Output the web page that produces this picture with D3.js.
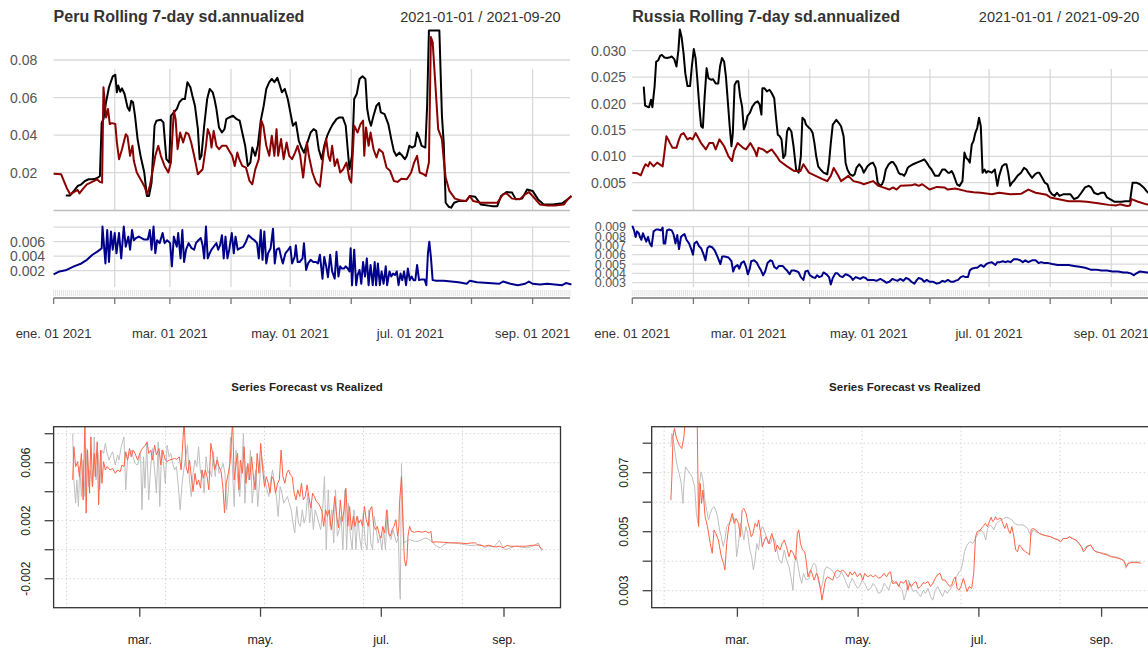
<!DOCTYPE html>
<html>
<head>
<meta charset="utf-8">
<script src="https://cdn.jsdelivr.net/npm/d3@7"></script>
<style>
  body { margin: 0; background: #fff; }
  svg { display: block; }
  text { font-family: "Liberation Sans", Arial, sans-serif; }
</style>
</head>
<body>
<svg id="chart" width="1148" height="650"></svg>
<script>
// values are [day since 2021-01-01, value]
const peruSdRolling = [[6.2,.0079],[8.4,.0079],[10.3,.0103],[12.2,.0129],[14.1,.0138],[15.9,.0156],[17.8,.0165],[19.7,.0165],[21.2,.0168],[22.5,.0174],[23.5,.0183],[24.4,.0468],[25.3,.0485],[26.6,.0575],[28.1,.0655],[30,.0713],[31.3,.0721],[32.1,.0628],[32.8,.0664],[33.8,.0631],[34.7,.0649],[36,.0619],[37.5,.0548],[38.5,.053],[39.4,.0583],[40.3,.0575],[41.3,.0503],[42.6,.0379],[44.1,.029],[46,.0201],[47.3,.0076],[48.4,.0076],[49.7,.0147],[51.2,.045],[52.2,.0477],[54.4,.0482],[55.7,.0468],[57.2,.0272],[58.7,.0254],[59.5,.0503],[61,.0521],[62.5,.0539],[63.8,.0575],[65.3,.0592],[66.6,.0592],[67.9,.0682],[69.4,.0655],[70.4,.061],[71.7,.0557],[73.2,.0432],[74.1,.0272],[75,.029],[76.4,.045],[77.9,.0592],[79.2,.0646],[80.7,.0628],[81.6,.0592],[82.6,.0539],[83.9,.0441],[85.4,.0414],[86.7,.0432],[87.6,.0485],[89.1,.0494],[91,.0503],[92.9,.0485],[94.4,.0477],[95.7,.0414],[97.2,.0343],[98.5,.0236],[99.8,.0254],[100.8,.0334],[102.3,.029],[103.6,.0343],[105.1,.0477],[106.6,.0557],[107.9,.0646],[109.4,.0682],[110.7,.0699],[112,.0682],[113.5,.0705],[114.8,.0664],[115.8,.0628],[117.3,.0646],[118.8,.0592],[120.1,.0521],[121.4,.045],[122.9,.0468],[124.4,.037],[125.7,.0334],[127,.0307],[128.5,.0352],[130.4,.0414],[131.9,.0432],[133.2,.0423],[134.5,.0325],[136,.0272],[137.3,.0343],[138.8,.0397],[140.3,.0432],[141.7,.0459],[143.5,.0485],[145,.0494],[146.7,.0494],[148.2,.045],[149.2,.0325],[150.1,.0218],[151.4,.029],[152.5,.0592],[153.8,.0619],[155.2,.0699],[156.7,.0713],[158.2,.0699],[159.1,.0539],[160,.0485],[161,.045],[162.3,.0503],[163.8,.0557],[165.1,.0571],[166,.0521],[167.9,.0512],[169.8,.0459],[171.3,.0379],[172.6,.0316],[173.9,.029],[175.4,.0307],[176.9,.029],[178.2,.0272],[179.2,.029],[180.5,.0343],[182,.0334],[183.3,.0343],[184.4,.0414],[185.4,.0388],[186.7,.0343],[188.6,.0334],[189.5,.0557],[190.4,.0957],[195.7,.0957],[197,.0503],[197.9,.0361],[198.9,.004],[200.4,.0019],[201.7,.0014],[203.2,.004],[205.4,.0049],[209.2,.0049],[211.1,.0076],[213.9,.0072],[216.7,.0031],[222.3,.0022],[225.1,.0022],[227,.0076],[229.8,.0097],[232.6,.0094],[234.5,.0058],[237.7,.0062],[240.2,.0111],[243,.0103],[245.8,.0058],[248.6,.0031],[253.3,.0031],[258,.0037],[260.8,.0058],[262.7,.0076]];

const peruSdModel = [[0,.0195],[3.8,.0192],[6.6,.012],[8.4,.0085],[10.3,.0097],[12.2,.0108],[13.1,.009],[15,.0115],[16.9,.0138],[18.8,.0147],[20.6,.0156],[22,.0165],[23.5,.0151],[24.6,.0147],[25.3,.0655],[26.6,.0494],[27.6,.0539],[28.5,.0459],[29.6,.0464],[31.3,.0459],[32.1,.0361],[33.2,.0272],[34.7,.0325],[36.6,.0405],[37.5,.0393],[38.8,.029],[40,.0343],[40.7,.0263],[42.2,.0201],[44.1,.0165],[46,.0129],[47.5,.0085],[48.8,.0129],[50.1,.0201],[51.6,.029],[53.1,.0343],[54.4,.029],[56.3,.0236],[58.2,.0201],[59.5,.0254],[61,.053],[61.9,.0485],[62.9,.0325],[64.2,.0414],[65.7,.0361],[67.2,.0414],[68.5,.0405],[69.8,.0361],[71.3,.029],[73.2,.0192],[75.6,.0218],[77.3,.0343],[78.2,.0432],[79.4,.0397],[80.1,.0334],[81.2,.0423],[82.6,.0343],[83.9,.0325],[85.4,.0343],[87.6,.0343],[89.1,.0316],[90.6,.029],[91.9,.0236],[93.2,.0307],[94.2,.0272],[95.7,.0236],[97.6,.0227],[99.4,.0156],[100.8,.0138],[102.3,.0218],[104.1,.0272],[105.4,.0477],[106.4,.045],[107.9,.0343],[109.4,.029],[110.7,.0397],[112,.029],[113.1,.0432],[113.9,.029],[115.4,.0379],[116.7,.0272],[118.2,.0361],[119.5,.029],[121,.0272],[122.5,.0307],[123.8,.0343],[125.1,.029],[126.6,.0174],[128.5,.0361],[129.5,.029],[131.3,.0201],[133.2,.0147],[135.1,.0126],[137,.0307],[138.3,.0379],[139.4,.029],[140.3,.0263],[141.3,.0343],[142.6,.0236],[143.9,.0272],[145.4,.0201],[146.9,.0218],[148.6,.0254],[150.1,.0165],[151,.0147],[152.5,.045],[154.2,.0414],[155.7,.0459],[157,.0477],[157.6,.029],[158.5,.0441],[159.8,.0343],[160.8,.0414],[162.3,.0325],[163.8,.0281],[165.1,.0325],[167,.0307],[168.9,.0227],[170.7,.021],[172.6,.0156],[174.5,.0151],[176.4,.0168],[179.2,.0165],[181.4,.0201],[182.9,.0254],[184.4,.029],[185.7,.0201],[187.6,.0192],[188.9,.0183],[190.4,.0254],[191.4,.0922],[192.3,.0895],[193.6,.0682],[195.1,.0432],[197,.0379],[197.9,.0272],[198.9,.0174],[200.8,.0103],[203.6,.0062],[206.4,.0053],[209.2,.0049],[211.1,.0076],[212.9,.0049],[216.7,.004],[220.5,.004],[225.1,.004],[228,.0085],[229.8,.009],[232.6,.0062],[236.4,.0058],[239.2,.0085],[241.1,.0097],[243,.0076],[246.7,.0031],[250.5,.0026],[255.2,.0026],[258.9,.0031],[260.8,.0058],[262.7,.0076]];

const peruSdLower = [[0,.0015],[3,.0019],[6.6,.0021],[10.3,.0026],[14.1,.003],[16.9,.0035],[19.7,.0042],[22,.0046],[23.5,.0049],[24.4,.0051],[24.8,.0081],[26.3,.003],[27.2,.0076],[28.1,.0032],[29.1,.0074],[30,.0049],[31,.0072],[31.9,.0044],[33.2,.0072],[34.3,.0037],[35.6,.0081],[36.6,.0053],[37.9,.0067],[38.8,.0049],[39.8,.0076],[40.7,.0062],[41.8,.0065],[43.2,.0067],[46,.0063],[47.8,.0063],[48.8,.0076],[49.7,.0049],[50.7,.0081],[51.6,.0044],[52.5,.0062],[53.8,.0058],[55.3,.0072],[56.3,.0058],[57.6,.0062],[59.1,.0058],[60,.0026],[61,.0067],[62.5,.0053],[63.2,.0072],[64.4,.0037],[65.3,.0076],[66.2,.0032],[67.2,.0049],[68.5,.0058],[70,.0051],[71.3,.0049],[72.2,.0058],[73.5,.0062],[74.7,.0065],[75.6,.0055],[76.4,.0037],[77.3,.0081],[78.2,.0037],[79.2,.0044],[80.1,.0049],[81.2,.0053],[82.6,.0058],[83.5,.0049],[84.4,.0055],[85.4,.0069],[86.3,.0037],[87.2,.0067],[88.2,.0037],[89.1,.0049],[90.4,.0072],[91.4,.0044],[92.3,.0067],[93.4,.0049],[94.7,.0051],[96.2,.0053],[97.6,.006],[98.9,.0069],[100.4,.0065],[101.9,.0062],[103.2,.0058],[104.1,.0037],[105.1,.0076],[106,.0035],[106.9,.0074],[107.9,.003],[108.8,.0044],[110.1,.0051],[111.3,.0078],[112.2,.003],[113.1,.0049],[114.4,.0051],[115.4,.0039],[116.3,.003],[117.6,.0044],[119.1,.0049],[120.1,.0053],[121,.003],[122.3,.0039],[122.9,.0055],[123.8,.0032],[124.8,.0032],[126.3,.0037],[127,.0058],[128.1,.0021],[129.1,.003],[130.4,.0035],[131.7,.0032],[133.2,.0032],[134.1,.003],[135.1,.0042],[136.4,.0009],[137.3,.0039],[138.3,.0026],[139.2,.0011],[140.3,.0042],[141.3,.0019],[142.6,.0009],[143.5,.0046],[144.5,.0012],[145.4,.0026],[146.3,.0023],[147.3,.0023],[148.2,.0026],[149.2,.0023],[150.1,.0019],[150.7,.0051],[151.4,0],[152.5,.0049],[153.5,0],[154.2,.0014],[155.2,.0021],[156.1,.0002],[157,.0032],[158,.0012],[158.9,.0037],[159.8,0],[160.8,.0028],[161.9,0],[162.9,.0032],[163.6,0],[164.5,.003],[165.5,0],[166.4,.0019],[167.4,.0002],[168.5,.0026],[169.2,0],[170.4,.0019],[171.3,.0012],[172.2,.0016],[173.2,.0014],[174.1,.0019],[175,0],[176,.0016],[176.9,.0007],[177.8,.0019],[178.8,0],[179.7,.0023],[180.7,.0007],[181.6,.0012],[182.6,.0007],[183.5,.0007],[184.4,.0028],[185.4,.0007],[186.7,.0008],[188.2,.0008],[189.1,0],[189.9,.0044],[190.6,.006],[191.4,.0039],[192.3,.0007],[194.2,.0006],[197.9,.0006],[201.7,.0005],[205.4,.0004],[209.6,.0002],[211.1,.0006],[214.8,.0004],[220.5,.0003],[226.1,.0002],[228,.0005],[231.7,.0002],[235.5,0],[239.2,.0002],[241.1,.0005],[243,.0002],[246.7,.0001],[250.5,.0002],[254.2,.0001],[258,0],[259.9,.0003],[262.7,.0001]];

const russiaSdRolling = [[5.8,.0232],[6.5,.0196],[7.6,.0194],[8.5,.0193],[9.5,.0207],[10.2,.0193],[11.3,.0232],[12.1,.0279],[13.2,.0282],[14.1,.029],[15,.0292],[16.3,.0287],[17.6,.0286],[18.7,.0287],[20,.0289],[21.3,.0284],[22.4,.027],[23.4,.0301],[24.1,.034],[25,.0326],[26,.0295],[26.9,.0257],[28,.0233],[29.3,.0233],[30.2,.027],[31.2,.0303],[32.1,.0286],[33,.0245],[34,.0194],[34.9,.0157],[35.8,.0154],[36.7,.0213],[37.7,.0267],[38.6,.0248],[39.9,.0245],[41,.0246],[42.3,.0238],[43.6,.0238],[44.5,.027],[45.5,.0286],[46.6,.0279],[47.5,.0251],[48.4,.0207],[49.4,.0157],[50.3,.0119],[51,.0144],[51.9,.0235],[52.9,.0242],[53.8,.0242],[54.7,.0213],[55.7,.0194],[56.6,.0151],[57.5,.016],[58.4,.0176],[59.6,.0182],[60.9,.0194],[62.2,.0201],[63.6,.0204],[64.6,.0198],[65.5,.0179],[66,.0229],[67,.0229],[68.3,.0223],[69.6,.0226],[70.7,.022],[72,.021],[72.9,.0173],[73.8,.0141],[74.8,.0138],[75.7,.0132],[76.6,.0097],[77.6,.0103],[78.5,.0147],[79.4,.0154],[80.7,.0147],[81.8,.0119],[83.1,.0075],[84.4,.0069],[85.5,.01],[86.3,.0173],[87.4,.0169],[88.1,.016],[89.6,.0154],[90.5,.0151],[91.5,.0144],[92.4,.0125],[93.3,.01],[94.3,.0081],[95.5,.0075],[97,.0069],[98.9,.0066],[99.8,.0088],[100.7,.0125],[101.7,.016],[103.5,.0169],[104.8,.0163],[105.9,.0157],[107.2,.0138],[108.2,.0088],[109.1,.0075],[110.4,.0066],[111.9,.0063],[112.8,.0066],[113.7,.0078],[115.2,.0085],[116.5,.0078],[117.4,.0069],[119.3,.0081],[120.7,.0086],[122.1,.0088],[123.4,.0078],[124.5,.005],[125.8,.0044],[126.7,.0047],[127.6,.0056],[128.6,.0075],[130.1,.0085],[131.4,.0089],[132.3,.0089],[133.8,.0081],[135.1,.0069],[136,.0066],[136.9,.0066],[137.9,.0063],[138.8,.0069],[139.7,.0078],[140.6,.0081],[142.5,.0085],[144.3,.0088],[146.2,.0091],[148.1,.0094],[149.4,.0088],[150.5,.0081],[151.8,.0075],[152.7,.0069],[153.6,.0063],[155.5,.0063],[157.3,.0075],[158.6,.0075],[160.1,.0069],[161,.0069],[162,.0072],[162.9,.0066],[164.7,.0047],[166,.0044],[167.5,.0053],[168.5,.0107],[169.4,.0097],[170.3,.0094],[171.2,.0088],[172.2,.0122],[173.1,.0129],[174,.0144],[175,.0154],[175.9,.0173],[176.8,.0157],[177.7,.0069],[178.7,.0075],[179.6,.0069],[180.5,.0072],[182.4,.0069],[183.9,.0075],[185.2,.0044],[186.1,.0063],[187.6,.0081],[188.9,.0085],[189.8,.0085],[190.7,.0069],[191.7,.0044],[192.6,.005],[193.5,.0053],[195.4,.0063],[197.2,.0069],[198.7,.0078],[200,.0075],[200.9,.0069],[202.8,.0059],[204.3,.0066],[205.6,.0069],[206.5,.0069],[208,.0059],[209.3,.005],[210.6,.0047],[211.7,.0034],[213,.0028],[214.3,.0025],[215.4,.0031],[216.7,.0025],[218.6,.0028],[220.4,.0028],[222.3,.0028],[224.1,.0019],[226,.0022],[227.8,.0031],[229.7,.0041],[231.5,.0044],[232.8,.0041],[234.3,.0031],[236.1,.0028],[238,.0031],[239.5,.0031],[240.8,.0022],[242.3,.0019],[244.5,.0014],[246.4,.0014],[248.2,.0014],[250.1,.0015],[252.5,.0015],[253.8,.005],[255.7,.005],[257.5,.0047],[259.4,.0041],[260.9,.0034],[262.7,.0028]];

const russiaSdModel = [[0,.0069],[2.4,.0068],[4.3,.0064],[5.8,.0078],[6.7,.0085],[8,.0081],[8.9,.0089],[10.8,.0081],[12.6,.0088],[15.4,.0081],[16.3,.0107],[17.3,.0138],[18.2,.0132],[19.1,.0125],[20.4,.0116],[22.4,.0116],[23.7,.0132],[24.7,.0141],[26,.0144],[28,.0132],[29.3,.0135],[30.6,.0132],[32.1,.0144],[34.9,.0125],[37.3,.0113],[39.1,.0125],[41,.0125],[42.3,.0113],[44.2,.0132],[46.6,.0119],[48.8,.01],[50.6,.0091],[51.6,.011],[53.4,.0125],[56.2,.0116],[57.7,.0113],[59.9,.0125],[62.2,.011],[63.1,.01],[64,.0116],[66.4,.0113],[68.3,.0107],[70.7,.0113],[73.3,.01],[74.8,.0091],[78.5,.0081],[82.2,.0072],[85.3,.0072],[86.8,.0085],[89.6,.0069],[93,.0063],[97,.0056],[98.9,.0053],[100.7,.0063],[102.2,.0078],[104.5,.0063],[105.9,.0053],[109.6,.0063],[112.2,.0053],[115.6,.005],[117.4,.0047],[122.1,.0053],[124.9,.0044],[130.4,.0037],[132.3,.0041],[134.1,.0037],[136,.0044],[141.6,.0045],[143.4,.0047],[145.3,.0044],[147.1,.0047],[150.8,.0037],[154.5,.0042],[158.3,.0041],[160.1,.0037],[163.8,.0039],[169.4,.0034],[173.1,.0032],[176.8,.0031],[182.4,.0028],[186.1,.0031],[191.7,.0028],[197.2,.0029],[200.9,.0037],[204.6,.0031],[210.2,.0027],[212.1,.0022],[215.8,.0019],[221.3,.0015],[226.9,.0015],[230.6,.0014],[236.2,.0011],[241.7,.0008],[245.5,.0007],[247.3,.0009],[251,.0006],[252.5,.0007],[253.2,.0019],[256.6,.0014],[260.9,.0009],[262.7,.0008]];

const russiaSdLower = [[0,.0091],[0.9,.0086],[1.7,.0079],[2.4,.0085],[3.3,.0083],[3.9,.0079],[4.6,.0076],[5.4,.0083],[6.1,.0079],[7.1,.0074],[8,.0079],[8.9,.0072],[9.8,.0069],[10.8,.0085],[12.1,.0087],[13.2,.0087],[14.5,.0086],[15.4,.0089],[15.9,.0072],[16.7,.0072],[17.6,.0086],[18.7,.0087],[20,.0086],[20.9,.0082],[21.9,.0072],[22.8,.0081],[23.7,.0066],[24.7,.0079],[25.6,.0081],[26.5,.0082],[27.5,.0076],[28.8,.0072],[29.9,.0066],[30.8,.006],[31.5,.0072],[32.7,.0074],[33.9,.0069],[34.9,.0067],[36.2,.006],[37.1,.0054],[38.1,.0067],[39.1,.0069],[40.5,.0068],[41.7,.0065],[43.2,.0058],[44.7,.005],[45.6,.0058],[46.9,.0058],[48.8,.0057],[50.3,.0053],[51.2,.0042],[52.1,.0047],[53.4,.0049],[54.3,.0045],[55.3,.0051],[56.6,.0053],[57.7,.0047],[58.6,.0039],[59.6,.0045],[60.3,.0053],[61.8,.0054],[63.3,.0051],[64.2,.0047],[65.1,.0044],[66.4,.0038],[67.4,.0042],[68.6,.0051],[70.1,.0054],[71,.0053],[72,.0047],[73.3,.0045],[74.4,.0048],[76.3,.0048],[77.5,.0045],[78.5,.0043],[79.8,.0039],[80.7,.0043],[82.2,.0043],[83.7,.0042],[84.4,.0041],[85.5,.0036],[86.8,.0033],[87.8,.0042],[89,.0043],[90.1,.0038],[91.5,.0036],[92.8,.0035],[93.7,.0038],[94.8,.0036],[96.1,.0037],[97,.0041],[98.5,.0039],[99.8,.0036],[100.7,.0028],[101.7,.0035],[103,.004],[104.1,.004],[105.4,.0037],[106.7,.0036],[108.2,.0039],[109.6,.0038],[110.9,.0036],[111.9,.0033],[113.3,.0036],[114.6,.0035],[115.6,.0034],[117.1,.0036],[118.4,.0035],[119.3,.0033],[120.7,.0033],[122.1,.0033],[123.9,.0032],[125.8,.0034],[127.6,.0032],[128.9,.003],[130.4,.0031],[131.9,.0034],[133.2,.0033],[134.5,.0032],[136,.0034],[137.5,.0032],[138.8,.0035],[140.1,.0034],[141.6,.0031],[143.1,.0029],[144.4,.0033],[145.3,.0035],[146.8,.0034],[148.1,.0031],[149.4,.0033],[150.8,.0031],[152.7,.0031],[154.5,.0029],[156,.003],[157.3,.0032],[158.6,.0031],[160.1,.0033],[161.6,.0031],[162.9,.0031],[163.8,.0032],[165.3,.0033],[166.6,.0036],[167.9,.0037],[169,.0036],[170.3,.0036],[171.2,.0043],[172.2,.0045],[174,.0046],[175,.0046],[176.8,.0049],[178.3,.0047],[179.6,.005],[180.5,.0051],[182.4,.0052],[184.2,.0049],[185.2,.0052],[186.5,.0052],[188,.0053],[189.3,.0052],[190.5,.0053],[191.9,.0052],[193.5,.0055],[195.4,.0055],[196.8,.0054],[198.1,.0052],[199.4,.0054],[200.9,.0052],[202.8,.0054],[204.6,.0054],[206.1,.0051],[207.4,.0052],[209.3,.0051],[211.1,.0051],[213,.005],[215.8,.0049],[218.6,.0049],[221.3,.0049],[224.1,.0048],[226.9,.0047],[229.7,.0046],[232.5,.0044],[235.3,.0044],[238,.0043],[240.8,.0043],[243.6,.0042],[246.4,.0042],[249.2,.0041],[251,.0041],[252.9,.004],[254.4,.0038],[255.7,.004],[257.5,.0042],[261.2,.0041],[262.7,.0041]];

const peruRealized = [[25.1,.00801],[25.7,.00481],[26.6,.00321],[27.2,.00481],[28,.00298],[28.7,.00573],[29.5,.00367],[30.4,.00618],[31.3,.00367],[32.3,.00698],[33.2,.00435],[34.1,.0055],[35.1,.00435],[36,.00778],[36.9,.00481],[37.9,.00664],[38.8,.00413],[39.7,.00687],[40.7,.00664],[41.6,.00733],[42.5,.00664],[43.5,.00618],[44.4,.00653],[45.3,.00675],[46.6,.00584],[47.8,.00653],[48.5,.00618],[49.6,.0071],[51,.00778],[51.9,.00413],[52.8,.00618],[53.8,.00664],[54.7,.00687],[55.6,.00641],[56.6,.00595],[57.9,.00584],[59.4,.00664],[60.1,.00275],[60.9,.00641],[61.6,.00424],[62.5,.00733],[63.5,.00344],[64.4,.0055],[65.4,.00698],[66.5,.0055],[67.4,.0039],[68.3,.00744],[69.1,.00298],[70,.00687],[70.9,.00607],[71.9,.00458],[72.8,.00721],[73.8,.00641],[74.7,.00664],[75.6,.00595],[76.6,.0055],[77.5,.00573],[78.4,.00447],[79.4,.00275],[80.3,.00447],[81.2,.0055],[82.2,.00641],[83.1,.00721],[84.1,.00481],[85,.00367],[85.9,.00527],[86.9,.00618],[87.8,.00573],[88.7,.0071],[89.7,.00527],[90.6,.0055],[91.5,.0039],[92.5,.00641],[93.4,.00527],[94.3,.0055],[95.3,.00504],[96.2,.00675],[97.1,.00504],[98.1,.00641],[99,.00527],[99.9,.0055],[101.1,.00595],[102,.00527],[102.9,.00275],[103.9,.00435],[104.8,.00778],[105.7,.00595],[106.7,.00298],[107.6,.00687],[108.5,.00481],[109.5,.00367],[110.4,.0055],[111.4,.00801],[112.1,.00321],[113,.00573],[114,.00481],[114.9,.00687],[115.8,.00321],[116.8,.00481],[117.7,.0055],[118.6,.00298],[119.6,.00481],[120.5,.00641],[121.4,.00573],[122.4,.00458],[123.3,.00413],[124.2,.00367],[125.2,.00481],[126.1,.0055],[127.1,.00435],[128,.00367],[128.9,.0023],[129.9,.00435],[130.8,.0039],[131.7,.00321],[132.7,.00344],[133.6,.00367],[134.5,.00321],[135.5,.00275],[136.4,.00184],[137.3,.00115],[138.3,.00298],[139.2,.00184],[140.1,.00161],[141.1,.00275],[142,.00184],[142.9,.0023],[143.9,.0039],[144.8,.00184],[145.7,.00321],[146.7,.00138],[147.6,.00275],[148.6,.0023],[149.5,.00184],[150.4,.00138],[151.4,.00275],[152.3,.00504],[153.2,0],[154.2,.00413],[155.1,.00161],[156,.00275],[157,.00047],[157.9,.00413],[158.8,.00093],[159.8,.00138],[160.7,.0023],[161.6,0],[162.6,.00413],[163.5,0],[164.4,.00321],[165.4,.00093],[166.3,0],[167.2,.00275],[168.2,0],[169.1,.0023],[170,.00093],[171,0],[171.9,.00253],[172.9,.00047],[173.8,0],[174.7,.00275],[175.7,.00047],[176.6,0],[177.5,.0023],[178.5,.00138],[179.4,.00047],[180.3,.00093],[181.3,0],[182.2,.00138],[183.1,0],[184.1,.00275],[185,.00093],[185.9,.0007],[186.9,.00138],[187.8,.00093],[188.7,.00047],[189.7,.00093],[190.2,-.0025],[190.6,-.00342],[191.2,.00595],[191.7,.00321],[192.5,.00047],[193.6,.00058],[195.3,.0007],[197.7,.00058],[199.6,.00058],[201.5,.0007],[203.3,.00081],[205.2,.0007],[207.1,.00047],[208.9,.00024],[210.8,.00013],[212.7,.00035],[214.6,.00047],[217.4,.00047],[220.2,.00042],[223,.00035],[225.8,.00029],[228.6,.00031],[231.4,.00035],[233.2,.00013],[235.1,.00024],[237.9,.00019],[240.7,.00065],[241.7,.00035],[243.5,0],[246.3,.00013],[249.2,.00024],[252,.00017],[254.8,.00013],[257.6,.00024],[260.4,.00047],[261.3,.00013],[262.2,-.0001]];

const peruForecast = [[25.1,.00481],[25.7,.0071],[26.6,.00573],[27.6,.00607],[28.5,.00504],[29.5,.00664],[30.4,.00344],[31.3,.0089],[31.9,.00252],[32.6,.00687],[33.6,.00389],[34.3,.00778],[35.1,.00435],[36,.00664],[36.5,.00504],[37.5,.00744],[38.2,.0031],[39.2,.00687],[39.9,.00458],[40.7,.00607],[41.6,.0055],[42.5,.00573],[44,.0055],[45.3,.00561],[46.6,.00527],[47.8,.0055],[49.1,.00538],[50,.00584],[51,.00573],[51.9,.00675],[52.8,.00618],[53.8,.00698],[54.7,.00641],[55.6,.00687],[56.6,.00664],[57.9,.00618],[59,.00664],[60.3,.00698],[61.8,.00721],[62.7,.00744],[63.5,.00664],[64.6,.00687],[65.4,.00618],[66.5,.00721],[67.4,.00653],[68.7,.00698],[69.6,.00584],[70.6,.00687],[71.9,.00618],[72.8,.00607],[73.9,.00618],[75.3,.00623],[76.6,.0063],[77.7,.00623],[79,.00641],[79.9,.0055],[80.9,.00778],[81.4,.0089],[82.4,.00573],[83.3,.00527],[84.1,.00618],[85.2,.00481],[85.9,.00401],[86.9,.00527],[87.8,.00447],[88.7,.00481],[89.7,.00424],[90.4,.0055],[91.2,.00493],[92.1,.0055],[93,.00504],[93.9,.00413],[94.9,.00733],[95.8,.00664],[96.8,.0055],[98.1,.00618],[99,.00573],[100.1,.00538],[101.1,.00413],[101.8,.00253],[102.7,.00458],[103.7,.00527],[104.6,.00595],[105.4,.00778],[105.9,.0089],[106.7,.00481],[107.4,.00573],[108.4,.00664],[109.1,.00413],[109.8,.00618],[110.8,.00527],[111.7,.0071],[112.6,.00458],[113.6,.00595],[114.5,.00481],[115.5,.00641],[116.4,.00504],[117.3,.00413],[118.3,.00664],[119.2,.00527],[120.1,.00733],[121.1,.0055],[122,.00435],[122.9,.00504],[123.9,.00458],[124.8,.0039],[125.7,.00504],[126.7,.00481],[127.6,.0039],[128.6,.00458],[129.5,.00481],[130.4,.00687],[131.3,.00504],[132.3,.00458],[133.2,.00527],[134.2,.0055],[135.1,.00515],[136,.00504],[137,.0039],[137.9,.00344],[138.8,.00413],[139.8,.00367],[140.7,.00458],[141.6,.00344],[142.6,.00367],[143.5,.00447],[144.4,.00367],[145.4,.00287],[146.3,.0039],[147.2,.00367],[148.2,.00333],[149.1,.00321],[150.1,.00298],[151,.00264],[151.9,.00161],[152.9,.00275],[153.8,.0023],[154.7,.00275],[155.7,.00138],[156.6,.0023],[157.5,.00367],[158.5,.0023],[159.4,.0015],[160.3,.00344],[161.3,.00195],[162.2,.00275],[163.1,.00424],[164.1,.00161],[165,.00298],[165.9,.00138],[166.9,.0023],[167.8,.00161],[168.7,.0023],[169.7,.00184],[170.6,.00207],[171.5,.00161],[172.5,.00298],[173.4,.00207],[174.4,.00161],[175.3,.00275],[176.2,.00298],[177.2,.00161],[178.1,.00138],[179,.00161],[180,.00104],[180.9,.00081],[181.8,.00161],[182.8,.00115],[183.7,.00275],[184.6,.00115],[185.6,.00093],[186.5,.00138],[187.4,.00161],[188.4,.00207],[189.3,.00093],[189.9,.00161],[190.2,.00321],[191.2,.00504],[192.1,.00115],[192.7,-.00067],[193.4,-.00113],[194,-.00067],[194.5,.00093],[195.3,.00161],[196.2,.00127],[197.7,.0012],[199.6,.00127],[201.5,.0012],[203.3,.00127],[205.2,.00115],[206.1,.00127],[206.7,.00051],[208.9,.00054],[212.7,.00051],[216.4,.00047],[220.2,.00047],[223.9,.00042],[226.7,.00047],[228.6,.00047],[229.5,.00035],[231.4,.00029],[233.2,.00024],[235.1,.00031],[237,.00024],[238.9,.00019],[240.7,.00024],[242.6,.00013],[244.5,.00029],[246.3,.00024],[248.2,.00024],[250.1,.00024],[253.8,.00024],[257.6,.00031],[260.4,.00031],[262.2,0]];

const russiaRealized = [[25.4,.00788],[25.9,.00833],[26.9,.00799],[27.8,.00754],[28.7,.0072],[29.6,.00698],[30.6,.00664],[31.5,.00596],[32,.00664],[32.8,.0072],[33.9,.00709],[35,.00698],[36.1,.00686],[37.4,.00653],[38.3,.00562],[39.1,.00528],[39.8,.00664],[40.7,.00703],[41.6,.00675],[42.6,.00607],[43.5,.00573],[44.4,.0054],[45.3,.00562],[46.3,.00579],[47.2,.00585],[48.1,.00573],[49,.00551],[50,.00506],[50.9,.00483],[51.8,.0045],[52.7,.00472],[53.6,.00517],[54.6,.00528],[56.1,.0054],[56.8,.00551],[57.7,.0054],[58.6,.00415],[59.6,.0046],[60.5,.00528],[61.4,.00506],[62.3,.00472],[63.3,.00517],[64.2,.00494],[65.3,.00438],[66.2,.00415],[67.1,.0037],[67.9,.00404],[68.8,.0046],[69.7,.00438],[70.6,.00494],[71.6,.00517],[72.5,.00506],[73.6,.00483],[74.5,.0046],[75.8,.0046],[76.7,.00483],[78,.00472],[79,.00438],[80.1,.00404],[81.4,.00393],[82.7,.00438],[83.8,.00404],[85.1,.00381],[86,.00347],[87.1,.00302],[87.8,.00393],[88.8,.00415],[89.7,.00381],[90.6,.00347],[91.5,.00325],[92.4,.00359],[93.7,.00336],[95.2,.00342],[96.1,.0037],[97.4,.00393],[98.6,.00387],[99.8,.00336],[101.1,.00302],[102.1,.00325],[103,.0037],[104.1,.00381],[105.4,.00376],[106.7,.0037],[107.8,.00359],[109.1,.00342],[110.4,.00347],[111.5,.00364],[112.8,.00347],[114.1,.00325],[115.2,.00308],[115.9,.00325],[117,.00342],[118.3,.00325],[119.6,.00308],[120.7,.00314],[122,.00336],[123.3,.00325],[124.8,.00302],[126.3,.00308],[127.6,.00325],[128.8,.00314],[130.3,.00291],[131.8,.00297],[133.1,.00325],[134.4,.00314],[135.5,.00302],[136.4,.00325],[137.3,.00336],[138.6,.00325],[139.9,.00325],[141,.00314],[142.3,.00302],[143.2,.00268],[144.2,.00291],[145.5,.00336],[146.6,.00314],[147.9,.00297],[149.2,.00302],[150.3,.00291],[151.6,.0028],[152.9,.00302],[154,.00291],[155.3,.00308],[156.6,.0028],[157.7,.00268],[159,.00302],[160.2,.00314],[161.4,.00297],[162.6,.0028],[163.9,.00302],[165,.00291],[166.3,.00302],[167.3,.00314],[168.6,.00325],[169.7,.00347],[171,.00364],[171.9,.0037],[172.8,.00393],[173.7,.00432],[175,.00455],[176.5,.00466],[178,.0046],[179.3,.00477],[180.6,.00494],[182.1,.00506],[183.5,.00494],[184.5,.00472],[185.4,.00511],[186.7,.00523],[187.6,.00517],[188.5,.00506],[189.8,.00528],[190.9,.00534],[192.2,.0054],[193.5,.00545],[195,.00549],[196.5,.00545],[197.7,.0054],[199,.00528],[200.5,.00523],[202,.00523],[203.3,.00523],[204.6,.00517],[205.7,.00511],[206.6,.00494],[207.4,.00489],[208.3,.00506],[209.7,.005],[211.6,.00494],[213.4,.00489],[215.3,.00486],[217.2,.00483],[219,.00477],[220.9,.00474],[222.3,.00466],[223.6,.00477],[225.5,.00477],[226.7,.00483],[228.2,.00477],[230,.00472],[231.6,.0046],[232.8,.00449],[233.8,.00438],[234.7,.00444],[235.6,.00452],[237.5,.00455],[239,.00438],[240.2,.00432],[242.1,.00429],[243.9,.00427],[245.8,.00424],[247.6,.00418],[249.5,.00415],[251.3,.00413],[253.2,.00406],[254.5,.00402],[255.2,.00376],[256,.00387],[257.8,.00398],[259.7,.00398],[262.4,.00398]];

const russiaForecast = [[25.4,.00607],[25.9,.00686],[26.5,.00822],[27.2,.0085],[28.3,.00816],[29.6,.00794],[30.9,.00782],[32,.00822],[32.4,.00856],[33,.0092],[38.6,.0092],[39.4,.00517],[40.2,.00664],[40.9,.00596],[41.6,.00641],[42.7,.00551],[43.9,.00517],[45.3,.0046],[46.3,.00427],[47.2,.00506],[48.1,.00494],[49.4,.00472],[50.9,.00415],[52,.00393],[52.7,.0037],[53.6,.0046],[54.6,.00517],[55.5,.0054],[56.4,.00562],[57.4,.00528],[58.3,.00545],[59.6,.00528],[60.5,.00483],[61.4,.00573],[62.3,.00579],[63.4,.00562],[64.4,.00528],[65.3,.00506],[66,.00483],[66.9,.00494],[67.9,.00528],[69,.00517],[69.7,.0054],[70.8,.00494],[71.6,.00449],[72.7,.00472],[73.6,.00483],[74.9,.0046],[76.4,.00494],[77.3,.00472],[78.2,.00432],[79.1,.00455],[80.5,.00438],[81.6,.0046],[82.7,.00472],[83.8,.00449],[85.1,.00415],[86,.00438],[87.3,.00427],[88.4,.00404],[89.3,.00494],[90,.00506],[90.9,.0046],[91.9,.00438],[93,.00432],[93.7,.00404],[94.7,.00347],[95.2,.00359],[96.1,.0037],[97.8,.00336],[98.9,.00359],[99.8,.00347],[100.8,.00314],[101.7,.00268],[102.6,.00302],[103.5,.00336],[104.5,.00347],[105.7,.00342],[107.2,.00336],[108.5,.00364],[109.6,.0037],[110.9,.00364],[112.2,.0037],[113.7,.00359],[115,.00347],[115.9,.00364],[117,.00353],[118.3,.00364],[119.6,.00347],[121.1,.00359],[122.4,.00336],[123.3,.00359],[124.8,.00347],[126.3,.00353],[127.6,.00347],[128.8,.00353],[130.3,.00342],[131.8,.00347],[133.1,.00359],[134.4,.00347],[135.5,.00361],[136.4,.00364],[137.3,.00325],[138.1,.00325],[139.2,.00331],[140.5,.00314],[141.4,.00331],[142.9,.00325],[144.2,.00336],[145.1,.00302],[146,.00325],[146.9,.00314],[147.9,.00325],[149.2,.00331],[150.3,.00308],[151.6,.00314],[152.9,.00327],[154,.00325],[155.3,.00331],[156.6,.00314],[157.7,.00325],[159,.00342],[159.9,.00353],[161.4,.00359],[162.6,.00336],[163.9,.00336],[165,.00325],[166.3,.00314],[167.3,.00319],[168.2,.00338],[169.1,.00347],[170,.00308],[171,.00302],[171.9,.00314],[173.2,.00342],[174.3,.00314],[175,.00297],[176.1,.00314],[177.4,.00308],[178.4,.00359],[179.3,.00483],[180.2,.005],[181.7,.00506],[183,.00517],[184.3,.00528],[185.4,.00517],[186.3,.00534],[187.2,.00549],[188,.00534],[188.9,.0054],[189.4,.00551],[190.4,.0054],[191.3,.00545],[192.2,.00545],[193.1,.00528],[194.1,.00511],[195,.00528],[195.9,.00506],[196.8,.00494],[197.7,.00517],[198.7,.00483],[199.6,.00438],[200.5,.00432],[201.4,.00455],[202.4,.00449],[203.3,.00438],[204.6,.00432],[205.7,.00427],[206.6,.00421],[207.4,.00506],[208.3,.00511],[209.7,.00506],[211.6,.00494],[213.4,.00489],[215.3,.00486],[217.2,.00483],[219,.00477],[220.9,.00472],[222.3,.00466],[223.6,.00477],[225.5,.00477],[226.7,.00483],[228.2,.00477],[230,.00472],[231.6,.0046],[232.8,.00449],[233.8,.00432],[234.7,.00438],[235.6,.00449],[237.5,.00455],[239,.00438],[240.2,.00432],[242.1,.00429],[243.9,.00424],[245.8,.00421],[247.6,.00415],[249.5,.00413],[251.3,.0041],[253.2,.00406],[254.5,.00398],[255.6,.00381],[256.3,.00393],[257.8,.00395],[259.7,.00395],[261.5,.00395],[262.8,.00393]];

// axis labels
const topTickLabels = ['ene. 01 2021', 'mar. 01 2021', 'may. 01 2021', 'jul. 01 2021', 'sep. 01 2021'];
const topTickMonths = [0, 2, 4, 6, 8];
const bottomTickLabels = ['mar.', 'may.', 'jul.', 'sep.'];
const bottomTickMonths = [2, 4, 6, 8];
const gridDays = [22, 72, 122, 172, 222];
const dateRangeLabel = '2021-01-01 / 2021-09-20';

const jan1 = new Date(2021, 0, 1);
const sep1 = new Date(2021, 8, 1);
const toDate = d => new Date(jan1.getTime() + d * 864e5);
const svg = d3.select('#chart');

function xtsChart(cfg) {
  const g = svg.append('g');
  const x = d3.scaleTime().domain([jan1, sep1]).range([cfg.x0, cfg.x0 + 479]);
  const xEnd = x(toDate(262));
  const grid = '#d9d9d9';

  g.append('text').attr('x', cfg.x0).attr('y', 21.5)
    .attr('font-size', 16).attr('font-weight', 'bold').attr('fill', '#333')
    .text(cfg.title);
  g.append('text').attr('x', cfg.x0 + 507).attr('y', 21.5)
    .attr('font-size', 14.5).attr('text-anchor', 'end').attr('fill', '#333')
    .text(dateRangeLabel);

  const months = d3.range(1, 9).map(m => new Date(2021, m, 1));

  function panel(p) {
    const y = d3.scaleLinear().domain(p.domain).range(p.range);
    g.selectAll(null).data(p.ticks).enter().append('line')
      .attr('x1', cfg.x0).attr('x2', xEnd)
      .attr('y1', d => y(d)).attr('y2', d => y(d))
      .attr('stroke', grid).attr('stroke-width', 1.3);
    g.selectAll(null).data(months).enter().append('line')
      .attr('x1', d => x(d)).attr('x2', d => x(d))
      .attr('y1', p.top).attr('y2', p.bottom)
      .attr('stroke', grid).attr('stroke-width', 1.3);
    g.selectAll(null).data(p.labels).enter().append('text')
      .attr('x', cfg.labelX).attr('y', d => y(d) + p.fontSize * 0.36)
      .attr('text-anchor', cfg.labelAnchor)
      .attr('font-size', p.fontSize).attr('fill', '#555')
      .text(d => d.toFixed(p.digits));
    const line = d3.line().x(d => x(toDate(d[0]))).y(d => y(d[1]));
    p.series.forEach(s => {
      g.append('path').datum(s.data).attr('d', line)
        .attr('fill', 'none').attr('stroke', s.color).attr('stroke-width', 2)
        .attr('stroke-linejoin', 'round');
    });
  }

  panel(cfg.upper);
  g.append('line').attr('x1', cfg.x0).attr('x2', xEnd).attr('y1', 210.5).attr('y2', 210.5)
    .attr('stroke', '#bdbdbd').attr('stroke-width', 1.3);
  panel(cfg.lower);

  // minor day ticks and major month ticks
  const days = d3.timeDay.range(jan1, toDate(262.5));
  g.selectAll(null).data(days).enter().append('line')
    .attr('x1', d => x(d)).attr('x2', d => x(d)).attr('y1', 290).attr('y2', 296)
    .attr('stroke', '#e4e4e4').attr('stroke-width', 1);
  g.append('line').attr('x1', cfg.x0).attr('x2', xEnd).attr('y1', 298).attr('y2', 298)
    .attr('stroke', '#777').attr('stroke-width', 1.3);
  g.selectAll(null).data([jan1].concat(months)).enter().append('line')
    .attr('x1', d => x(d)).attr('x2', d => x(d)).attr('y1', 298).attr('y2', 304)
    .attr('stroke', '#777').attr('stroke-width', 1.3);
  g.selectAll(null).data(topTickMonths).enter().append('text')
    .attr('x', m => x(new Date(2021, m, 1))).attr('y', 338)
    .attr('text-anchor', 'middle').attr('font-size', 13).attr('fill', '#333')
    .text((m, i) => topTickLabels[i]);
}

function forecastChart(cfg) {
  const g = svg.append('g');
  const top = 426.7, bottom = 607.7;
  const x = d3.scaleTime().domain([jan1, sep1]).range([cfg.jan1X, cfg.jan1X + 481]);
  const y = d3.scaleLinear().domain(cfg.domain).range(cfg.range);
  const clipId = 'clip' + cfg.id;
  svg.append('clipPath').attr('id', clipId).append('rect')
    .attr('x', cfg.left).attr('y', top).attr('width', cfg.right - cfg.left).attr('height', bottom - top);

  g.append('text').attr('x', (cfg.left + cfg.right) / 2).attr('y', 391)
    .attr('text-anchor', 'middle').attr('font-size', 11.5).attr('font-weight', 'bold').attr('fill', '#222')
    .text('Series Forecast vs Realized');

  g.selectAll(null).data(cfg.ticks).enter().append('line')
    .attr('x1', cfg.left).attr('x2', cfg.right).attr('y1', d => y(d)).attr('y2', d => y(d))
    .attr('stroke', '#d3d3d3').attr('stroke-dasharray', '1.5,2.5');
  g.selectAll(null).data(gridDays).enter().append('line')
    .attr('x1', d => x(toDate(d))).attr('x2', d => x(toDate(d))).attr('y1', top).attr('y2', bottom)
    .attr('stroke', '#d3d3d3').attr('stroke-dasharray', '1.5,2.5');

  const line = d3.line().x(d => x(toDate(d[0]))).y(d => y(d[1]));
  const lines = g.append('g').attr('clip-path', `url(#${clipId})`);
  lines.append('path').datum(cfg.realized).attr('d', line)
    .attr('fill', 'none').attr('stroke', '#bebebe').attr('stroke-width', 1);
  lines.append('path').datum(cfg.forecast).attr('d', line)
    .attr('fill', 'none').attr('stroke', 'tomato').attr('stroke-width', 1);

  g.append('rect').attr('x', cfg.left).attr('y', top)
    .attr('width', cfg.right - cfg.left).attr('height', bottom - top)
    .attr('fill', 'none').attr('stroke', '#333').attr('stroke-width', 1.3);

  g.selectAll(null).data(cfg.ticks).enter().append('line')
    .attr('x1', cfg.left - 9).attr('x2', cfg.left).attr('y1', d => y(d)).attr('y2', d => y(d))
    .attr('stroke', '#444').attr('stroke-width', 1.3);
  g.selectAll(null).data(cfg.labels).enter().append('text')
    .attr('transform', d => `translate(${cfg.left - 24},${y(d)}) rotate(-90)`)
    .attr('text-anchor', 'middle').attr('font-size', 12).attr('fill', '#222')
    .text(d => d.toFixed(3));

  g.selectAll(null).data(bottomTickMonths).enter().append('line')
    .attr('x1', m => x(new Date(2021, m, 1))).attr('x2', m => x(new Date(2021, m, 1)))
    .attr('y1', bottom).attr('y2', bottom + 9)
    .attr('stroke', '#444').attr('stroke-width', 1.3);
  g.selectAll(null).data(bottomTickMonths).enter().append('text')
    .attr('x', m => x(new Date(2021, m, 1))).attr('y', 644)
    .attr('text-anchor', 'middle').attr('font-size', 12.5).attr('fill', '#222')
    .text((m, i) => bottomTickLabels[i]);
}

xtsChart({
  x0: 53.6, labelX: 10, labelAnchor: 'start', title: 'Peru Rolling 7-day sd.annualized',
  upper: { domain: [0.02, 0.08], range: [172.7, 60], top: 69, bottom: 210.5, fontSize: 14,
    ticks: [0.02, 0.04, 0.06, 0.08], labels: [0.02, 0.04, 0.06, 0.08], digits: 2,
    series: [{ data: peruSdRolling, color: '#000' }, { data: peruSdModel, color: '#8b0000' }] },
  lower: { domain: [0.002, 0.006], range: [270.7, 241.7], top: 226.5, bottom: 287, fontSize: 14,
    ticks: [0.002, 0.004, 0.006, 0.008], labels: [0.002, 0.004, 0.006], digits: 3,
    series: [{ data: peruSdLower, color: '#00008b' }] }
});

xtsChart({
  x0: 632.3, labelX: 626, labelAnchor: 'end', title: 'Russia Rolling 7-day sd.annualized',
  upper: { domain: [0.005, 0.030], range: [182.7, 50.7], top: 69, bottom: 210.5, fontSize: 14,
    ticks: [0.005, 0.01, 0.015, 0.02, 0.025, 0.03], labels: [0.005, 0.01, 0.015, 0.02, 0.025, 0.03], digits: 3,
    series: [{ data: russiaSdRolling, color: '#000' }, { data: russiaSdModel, color: '#8b0000' }] },
  lower: { domain: [0.003, 0.009], range: [282.7, 226.7], top: 226, bottom: 287, fontSize: 12.5,
    ticks: [0.003, 0.004, 0.005, 0.006, 0.007, 0.008, 0.009], labels: [0.003, 0.004, 0.005, 0.006, 0.007, 0.008, 0.009], digits: 3,
    series: [{ data: russiaSdLower, color: '#00008b' }] }
});

forecastChart({
  id: 'peru', jan1X: 23, left: 53.6, right: 560.5,
  domain: [0.002, 0.006], range: [520.7, 462.7],
  ticks: [-0.002, 0, 0.002, 0.004, 0.006, 0.008], labels: [-0.002, 0.002, 0.006],
  realized: peruRealized, forecast: peruForecast
});

forecastChart({
  id: 'russia', jan1X: 620.6, left: 651.7, right: 1158,
  domain: [0.003, 0.007], range: [590.7, 472.7],
  ticks: [0.003, 0.004, 0.005, 0.006, 0.007, 0.008], labels: [0.003, 0.005, 0.007],
  realized: russiaRealized, forecast: russiaForecast
});
</script>
</body>
</html>
